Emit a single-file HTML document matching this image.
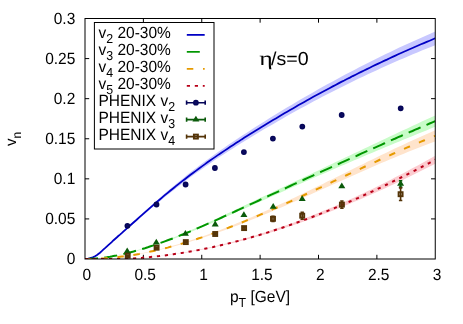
<!DOCTYPE html>
<html><head><meta charset="utf-8"><title>vn</title>
<style>html,body{margin:0;padding:0;background:#fff;width:463px;height:324px;overflow:hidden;font-family:"Liberation Sans",sans-serif}</style>
</head><body>
<svg width="463" height="324" viewBox="0 0 463 324" style="position:absolute;left:0;top:0;will-change:transform">
<rect width="463" height="324" fill="#fff"/>
<defs><clipPath id="c"><rect x="85.0" y="18.5" width="350.25" height="240.5"/></clipPath></defs>
<path d="M143.38,259.0v-4.2M143.38,18.5v4.2M201.75,259.0v-4.2M201.75,18.5v4.2M260.12,259.0v-4.2M260.12,18.5v4.2M318.50,259.0v-4.2M318.50,18.5v4.2M376.88,259.0v-4.2M376.88,18.5v4.2M85.0,218.92h4.2M435.25,218.92h-4.2M85.0,178.83h4.2M435.25,178.83h-4.2M85.0,138.75h4.2M435.25,138.75h-4.2M85.0,98.67h4.2M435.25,98.67h-4.2M85.0,58.58h4.2M435.25,58.58h-4.2" stroke="#000" stroke-width="1" fill="none"/>
<g clip-path="url(#c)">
<path d="M85.0,259.0 L86.7,258.8 L88.3,258.6 L90.0,258.2 L91.7,257.7 L93.3,257.0 L95.0,256.2 L96.7,255.1 L98.3,253.9 L100.0,252.5 L101.7,251.0 L103.3,249.5 L105.0,247.9 L106.7,246.3 L108.3,244.7 L110.0,243.1 L111.7,241.6 L113.3,240.0 L115.0,238.5 L116.7,236.9 L118.3,235.4 L120.0,233.8 L121.7,232.3 L123.3,230.8 L125.0,229.3 L129.5,225.1 L134.0,221.0 L138.5,216.9 L143.0,212.8 L147.5,208.7 L152.0,204.7 L156.5,200.7 L161.0,196.7 L165.5,192.8 L170.0,189.0 L174.5,185.2 L179.0,181.5 L183.5,177.9 L187.9,174.3 L192.4,170.8 L196.9,167.4 L201.4,164.0 L205.9,160.7 L210.4,157.4 L214.9,154.2 L219.4,151.1 L223.9,147.9 L228.4,144.8 L232.9,141.8 L237.4,138.8 L241.9,135.8 L246.4,132.9 L250.9,130.0 L255.4,127.1 L259.9,124.2 L264.4,121.4 L268.9,118.6 L273.4,115.8 L277.9,113.0 L282.4,110.3 L286.9,107.6 L291.4,104.9 L295.9,102.3 L300.4,99.6 L304.9,97.0 L309.4,94.4 L313.8,91.9 L318.3,89.3 L322.8,86.8 L327.3,84.3 L331.8,81.9 L336.3,79.4 L340.8,77.0 L345.3,74.6 L349.8,72.2 L354.3,69.9 L358.8,67.5 L363.3,65.2 L367.8,62.9 L372.3,60.7 L376.8,58.5 L381.3,56.2 L385.8,54.1 L390.3,51.9 L394.8,49.7 L399.3,47.6 L403.8,45.5 L408.3,43.5 L412.8,41.4 L417.3,39.4 L421.8,37.4 L426.3,35.4 L430.8,33.4 L435.2,31.5 L435.2,45.2 L430.8,47.0 L426.3,48.8 L421.8,50.6 L417.3,52.5 L412.8,54.3 L408.3,56.2 L403.8,58.2 L399.3,60.1 L394.8,62.1 L390.3,64.1 L385.8,66.1 L381.3,68.1 L376.8,70.2 L372.3,72.2 L367.8,74.3 L363.3,76.5 L358.8,78.6 L354.3,80.8 L349.8,83.0 L345.3,85.2 L340.8,87.4 L336.3,89.7 L331.8,91.9 L327.3,94.3 L322.8,96.6 L318.3,98.9 L313.8,101.3 L309.4,103.7 L304.9,106.2 L300.4,108.6 L295.9,111.1 L291.4,113.6 L286.9,116.1 L282.4,118.7 L277.9,121.3 L273.4,123.9 L268.9,126.5 L264.4,129.1 L259.9,131.8 L255.4,134.5 L250.9,137.2 L246.4,140.0 L241.9,142.8 L237.4,145.6 L232.9,148.4 L228.4,151.3 L223.9,154.2 L219.4,157.1 L214.9,160.1 L210.4,163.2 L205.9,166.3 L201.4,169.4 L196.9,172.6 L192.4,175.8 L187.9,179.1 L183.5,182.5 L179.0,185.9 L174.5,189.4 L170.0,192.9 L165.5,196.5 L161.0,200.2 L156.5,203.9 L152.0,207.7 L147.5,211.5 L143.0,215.4 L138.5,219.3 L134.0,223.2 L129.5,227.0 L125.0,230.9 L123.3,232.4 L121.7,233.8 L120.0,235.3 L118.3,236.7 L116.7,238.2 L115.0,239.6 L113.3,241.1 L111.7,242.5 L110.0,244.0 L108.3,245.5 L106.7,247.0 L105.0,248.5 L103.3,250.0 L101.7,251.5 L100.0,252.9 L98.3,254.2 L96.7,255.3 L95.0,256.3 L93.3,257.1 L91.7,257.8 L90.0,258.2 L88.3,258.6 L86.7,258.8 L85.0,259.0Z" fill="#c8c8ff"/>
<path d="M85.0,259.0 L86.7,259.0 L88.3,258.9 L90.0,258.8 L91.7,258.7 L93.3,258.6 L95.0,258.5 L96.7,258.3 L98.3,258.2 L100.0,258.0 L101.7,257.8 L103.3,257.6 L105.0,257.4 L106.7,257.1 L108.3,256.9 L110.0,256.6 L111.7,256.3 L113.3,256.0 L115.0,255.7 L116.7,255.3 L118.3,255.0 L120.0,254.6 L121.7,254.3 L123.3,253.9 L125.0,253.5 L129.5,252.4 L134.0,251.1 L138.5,249.8 L143.0,248.5 L147.5,247.0 L152.0,245.5 L156.5,243.9 L161.0,242.3 L165.5,240.6 L170.0,238.9 L174.5,237.1 L179.0,235.3 L183.5,233.4 L187.9,231.5 L192.4,229.6 L196.9,227.6 L201.4,225.6 L205.9,223.6 L210.4,221.5 L214.9,219.4 L219.4,217.3 L223.9,215.2 L228.4,213.1 L232.9,211.0 L237.4,208.8 L241.9,206.7 L246.4,204.5 L250.9,202.4 L255.4,200.3 L259.9,198.1 L264.4,196.0 L268.9,193.9 L273.4,191.7 L277.9,189.6 L282.4,187.5 L286.9,185.3 L291.4,183.2 L295.9,181.1 L300.4,178.9 L304.9,176.8 L309.4,174.7 L313.8,172.6 L318.3,170.4 L322.8,168.3 L327.3,166.1 L331.8,164.0 L336.3,161.8 L340.8,159.7 L345.3,157.6 L349.8,155.4 L354.3,153.3 L358.8,151.2 L363.3,149.0 L367.8,146.9 L372.3,144.8 L376.8,142.7 L381.3,140.6 L385.8,138.4 L390.3,136.3 L394.8,134.2 L399.3,132.1 L403.8,130.0 L408.3,127.9 L412.8,125.8 L417.3,123.7 L421.8,121.6 L426.3,119.6 L430.8,117.5 L435.2,115.4 L435.2,126.7 L430.8,128.5 L426.3,130.4 L421.8,132.2 L417.3,134.0 L412.8,135.9 L408.3,137.7 L403.8,139.6 L399.3,141.4 L394.8,143.3 L390.3,145.2 L385.8,147.0 L381.3,148.9 L376.8,150.8 L372.3,152.7 L367.8,154.6 L363.3,156.5 L358.8,158.4 L354.3,160.3 L349.8,162.3 L345.3,164.2 L340.8,166.1 L336.3,168.0 L331.8,170.0 L327.3,171.9 L322.8,173.9 L318.3,175.8 L313.8,177.8 L309.4,179.8 L304.9,181.8 L300.4,183.7 L295.9,185.7 L291.4,187.7 L286.9,189.7 L282.4,191.7 L277.9,193.7 L273.4,195.7 L268.9,197.7 L264.4,199.8 L259.9,201.8 L255.4,203.8 L250.9,205.8 L246.4,207.8 L241.9,209.8 L237.4,211.8 L232.9,213.8 L228.4,215.8 L223.9,217.8 L219.4,219.8 L214.9,221.8 L210.4,223.7 L205.9,225.7 L201.4,227.6 L196.9,229.4 L192.4,231.3 L187.9,233.1 L183.5,234.9 L179.0,236.7 L174.5,238.4 L170.0,240.1 L165.5,241.7 L161.0,243.3 L156.5,244.8 L152.0,246.3 L147.5,247.7 L143.0,249.1 L138.5,250.4 L134.0,251.6 L129.5,252.7 L125.0,253.8 L123.3,254.2 L121.7,254.5 L120.0,254.9 L118.3,255.2 L116.7,255.6 L115.0,255.9 L113.3,256.2 L111.7,256.5 L110.0,256.7 L108.3,257.0 L106.7,257.2 L105.0,257.5 L103.3,257.7 L101.7,257.9 L100.0,258.1 L98.3,258.2 L96.7,258.4 L95.0,258.5 L93.3,258.6 L91.7,258.8 L90.0,258.8 L88.3,258.9 L86.7,259.0 L85.0,259.0Z" fill="#c8fcc8"/>
<path d="M85.0,259.0 L86.7,259.0 L88.3,259.0 L90.0,259.0 L91.7,258.9 L93.3,258.9 L95.0,258.8 L96.7,258.7 L98.3,258.7 L100.0,258.6 L101.7,258.5 L103.3,258.4 L105.0,258.2 L106.7,258.1 L108.3,258.0 L110.0,257.8 L111.7,257.7 L113.3,257.5 L115.0,257.3 L116.7,257.1 L118.3,256.9 L120.0,256.7 L121.7,256.5 L123.3,256.3 L125.0,256.1 L129.5,255.4 L134.0,254.6 L138.5,253.8 L143.0,253.0 L147.5,252.1 L152.0,251.1 L156.5,250.0 L161.0,248.9 L165.5,247.8 L170.0,246.6 L174.5,245.3 L179.0,244.0 L183.5,242.7 L187.9,241.3 L192.4,239.8 L196.9,238.3 L201.4,236.8 L205.9,235.2 L210.4,233.6 L214.9,231.9 L219.4,230.2 L223.9,228.5 L228.4,226.7 L232.9,224.9 L237.4,223.1 L241.9,221.2 L246.4,219.3 L250.9,217.4 L255.4,215.4 L259.9,213.5 L264.4,211.5 L268.9,209.4 L273.4,207.4 L277.9,205.3 L282.4,203.3 L286.9,201.2 L291.4,199.0 L295.9,196.9 L300.4,194.8 L304.9,192.6 L309.4,190.5 L313.8,188.3 L318.3,186.1 L322.8,183.9 L327.3,181.6 L331.8,179.4 L336.3,177.2 L340.8,175.0 L345.3,172.7 L349.8,170.5 L354.3,168.3 L358.8,166.1 L363.3,163.9 L367.8,161.6 L372.3,159.4 L376.8,157.3 L381.3,155.1 L385.8,152.9 L390.3,150.8 L394.8,148.6 L399.3,146.5 L403.8,144.4 L408.3,142.3 L412.8,140.3 L417.3,138.2 L421.8,136.2 L426.3,134.2 L430.8,132.2 L435.2,130.3 L435.2,141.4 L430.8,143.1 L426.3,144.8 L421.8,146.5 L417.3,148.3 L412.8,150.0 L408.3,151.8 L403.8,153.7 L399.3,155.5 L394.8,157.4 L390.3,159.3 L385.8,161.2 L381.3,163.1 L376.8,165.0 L372.3,167.0 L367.8,168.9 L363.3,170.9 L358.8,172.9 L354.3,174.9 L349.8,176.9 L345.3,178.9 L340.8,180.9 L336.3,182.9 L331.8,184.9 L327.3,186.9 L322.8,188.9 L318.3,190.9 L313.8,192.9 L309.4,195.0 L304.9,197.0 L300.4,199.0 L295.9,201.0 L291.4,203.0 L286.9,204.9 L282.4,206.9 L277.9,208.8 L273.4,210.8 L268.9,212.7 L264.4,214.6 L259.9,216.4 L255.4,218.3 L250.9,220.1 L246.4,221.9 L241.9,223.7 L237.4,225.4 L232.9,227.1 L228.4,228.8 L223.9,230.5 L219.4,232.1 L214.9,233.7 L210.4,235.2 L205.9,236.7 L201.4,238.2 L196.9,239.7 L192.4,241.1 L187.9,242.4 L183.5,243.7 L179.0,245.0 L174.5,246.2 L170.0,247.4 L165.5,248.5 L161.0,249.6 L156.5,250.6 L152.0,251.6 L147.5,252.5 L143.0,253.4 L138.5,254.2 L134.0,254.9 L129.5,255.6 L125.0,256.3 L123.3,256.5 L121.7,256.7 L120.0,256.9 L118.3,257.1 L116.7,257.3 L115.0,257.4 L113.3,257.6 L111.7,257.8 L110.0,257.9 L108.3,258.0 L106.7,258.2 L105.0,258.3 L103.3,258.4 L101.7,258.5 L100.0,258.6 L98.3,258.7 L96.7,258.8 L95.0,258.8 L93.3,258.9 L91.7,258.9 L90.0,259.0 L88.3,259.0 L86.7,259.0 L85.0,259.0Z" fill="#ffe4cc"/>
<path d="M85.0,259.0 L86.7,259.0 L88.3,259.0 L90.0,259.0 L91.7,259.0 L93.3,259.0 L95.0,259.0 L96.7,259.0 L98.3,259.0 L100.0,259.0 L101.7,259.0 L103.3,259.0 L105.0,259.0 L106.7,259.0 L108.3,259.0 L110.0,259.0 L111.7,259.0 L113.3,259.0 L115.0,259.0 L116.7,259.0 L118.3,259.0 L120.0,259.0 L121.7,259.0 L123.3,258.9 L125.0,258.9 L129.5,258.6 L134.0,258.3 L138.5,258.0 L143.0,257.7 L147.5,257.2 L152.0,256.8 L156.5,256.3 L161.0,255.8 L165.5,255.2 L170.0,254.6 L174.5,253.9 L179.0,253.2 L183.5,252.5 L187.9,251.7 L192.4,250.8 L196.9,250.0 L201.4,249.1 L205.9,248.2 L210.4,247.2 L214.9,246.2 L219.4,245.1 L223.9,244.0 L228.4,242.9 L232.9,241.7 L237.4,240.5 L241.9,239.3 L246.4,238.0 L250.9,236.7 L255.4,235.4 L259.9,234.0 L264.4,232.6 L268.9,231.1 L273.4,229.6 L277.9,228.1 L282.4,226.6 L286.9,225.0 L291.4,223.4 L295.9,221.7 L300.4,220.0 L304.9,218.3 L309.4,216.6 L313.8,214.8 L318.3,213.0 L322.8,211.1 L327.3,209.3 L331.8,207.4 L336.3,205.4 L340.8,203.4 L345.3,201.5 L349.8,199.4 L354.3,197.4 L358.8,195.3 L363.3,193.2 L367.8,191.0 L372.3,188.9 L376.8,186.7 L381.3,184.4 L385.8,182.2 L390.3,179.9 L394.8,177.6 L399.3,175.3 L403.8,172.9 L408.3,170.5 L412.8,168.1 L417.3,165.7 L421.8,163.3 L426.3,160.8 L430.8,158.3 L435.2,155.7 L435.2,163.7 L430.8,166.0 L426.3,168.3 L421.8,170.5 L417.3,172.8 L412.8,175.0 L408.3,177.2 L403.8,179.4 L399.3,181.5 L394.8,183.7 L390.3,185.8 L385.8,187.9 L381.3,189.9 L376.8,192.0 L372.3,194.0 L367.8,196.0 L363.3,198.0 L358.8,199.9 L354.3,201.8 L349.8,203.7 L345.3,205.6 L340.8,207.4 L336.3,209.2 L331.8,211.0 L327.3,212.8 L322.8,214.5 L318.3,216.2 L313.8,217.9 L309.4,219.5 L304.9,221.1 L300.4,222.7 L295.9,224.3 L291.4,225.8 L286.9,227.3 L282.4,228.8 L277.9,230.3 L273.4,231.7 L268.9,233.0 L264.4,234.4 L259.9,235.7 L255.4,237.0 L250.9,238.2 L246.4,239.5 L241.9,240.7 L237.4,241.8 L232.9,242.9 L228.4,244.0 L223.9,245.1 L219.4,246.1 L214.9,247.1 L210.4,248.0 L205.9,248.9 L201.4,249.8 L196.9,250.6 L192.4,251.4 L187.9,252.2 L183.5,252.9 L179.0,253.6 L174.5,254.3 L170.0,254.9 L165.5,255.4 L161.0,256.0 L156.5,256.5 L152.0,256.9 L147.5,257.4 L143.0,257.7 L138.5,258.1 L134.0,258.4 L129.5,258.7 L125.0,258.9 L123.3,258.9 L121.7,259.0 L120.0,259.0 L118.3,259.0 L116.7,259.0 L115.0,259.0 L113.3,259.0 L111.7,259.0 L110.0,259.0 L108.3,259.0 L106.7,259.0 L105.0,259.0 L103.3,259.0 L101.7,259.0 L100.0,259.0 L98.3,259.0 L96.7,259.0 L95.0,259.0 L93.3,259.0 L91.7,259.0 L90.0,259.0 L88.3,259.0 L86.7,259.0 L85.0,259.0Z" fill="#fcccd0"/>
<path d="M85.0,259.0 L86.7,258.8 L88.3,258.6 L90.0,258.2 L91.7,257.7 L93.3,257.1 L95.0,256.3 L96.7,255.2 L98.3,254.0 L100.0,252.7 L101.7,251.2 L103.3,249.7 L105.0,248.2 L106.7,246.6 L108.3,245.1 L110.0,243.6 L111.7,242.1 L113.3,240.5 L115.0,239.0 L116.7,237.5 L118.3,236.0 L120.0,234.6 L121.7,233.1 L123.3,231.6 L125.0,230.1 L127.8,227.6 L130.7,225.0 L133.5,222.5 L136.4,220.0 L139.2,217.4 L142.1,214.9 L144.9,212.4 L147.8,209.9 L150.6,207.4 L153.5,204.9 L156.3,202.4 L159.2,200.0 L162.0,197.6 L164.8,195.2 L167.7,192.8 L170.5,190.5 L173.4,188.2 L176.2,185.9 L179.1,183.6 L181.9,181.4 L184.8,179.2 L187.6,177.0 L190.5,174.8 L193.3,172.7 L196.2,170.6 L199.0,168.5 L201.9,166.4 L204.7,164.4 L207.5,162.3 L210.4,160.3 L213.2,158.4 L216.1,156.4 L218.9,154.4 L221.8,152.5 L224.6,150.6 L227.5,148.7 L230.3,146.8 L233.2,144.9 L236.0,143.1 L238.9,141.3 L241.7,139.4 L244.5,137.6 L247.4,135.8 L250.2,134.0 L253.1,132.2 L255.9,130.5 L258.8,128.7 L261.6,127.0 L264.5,125.2 L267.3,123.5 L270.2,121.8 L273.0,120.1 L275.9,118.4 L278.7,116.7 L281.5,115.0 L284.4,113.3 L287.2,111.7 L290.1,110.0 L292.9,108.4 L295.8,106.7 L298.6,105.1 L301.5,103.5 L304.3,101.9 L307.2,100.3 L310.0,98.7 L312.9,97.1 L315.7,95.6 L318.6,94.0 L321.4,92.5 L324.2,91.0 L327.1,89.4 L329.9,87.9 L332.8,86.4 L335.6,84.9 L338.5,83.4 L341.3,81.9 L344.2,80.5 L347.0,79.0 L349.9,77.6 L352.7,76.1 L355.6,74.7 L358.4,73.3 L361.2,71.9 L364.1,70.5 L366.9,69.1 L369.8,67.7 L372.6,66.3 L375.5,64.9 L378.3,63.6 L381.2,62.2 L384.0,60.9 L386.9,59.6 L389.7,58.2 L392.6,56.9 L395.4,55.6 L398.2,54.3 L401.1,53.0 L403.9,51.8 L406.8,50.5 L409.6,49.2 L412.5,48.0 L415.3,46.8 L418.2,45.5 L421.0,44.3 L423.9,43.1 L426.7,41.9 L429.6,40.7 L432.4,39.5 L435.2,38.3" fill="none" stroke="#0000c4" stroke-width="1.75"/>
<path d="M85.0,259.0 L86.7,259.0 L88.3,258.9 L90.0,258.8 L91.7,258.7 L93.3,258.6 L95.0,258.5 L96.7,258.4 L98.3,258.2 L100.0,258.0 L101.7,257.8 L103.3,257.6 L105.0,257.4 L106.7,257.2 L108.3,256.9 L110.0,256.7 L111.7,256.4 L113.3,256.1 L115.0,255.8 L116.7,255.5 L118.3,255.1 L120.0,254.8 L121.7,254.4 L123.3,254.0 L125.0,253.6 L127.8,253.0 L130.7,252.2 L133.5,251.5 L136.4,250.7 L139.2,249.9 L142.1,249.0 L144.9,248.2 L147.8,247.3 L150.6,246.3 L153.5,245.4 L156.3,244.4 L159.2,243.4 L162.0,242.4 L164.8,241.4 L167.7,240.3 L170.5,239.3 L173.4,238.2 L176.2,237.1 L179.1,235.9 L181.9,234.8 L184.8,233.6 L187.6,232.5 L190.5,231.3 L193.3,230.1 L196.2,228.9 L199.0,227.6 L201.9,226.4 L204.7,225.1 L207.5,223.9 L210.4,222.6 L213.2,221.4 L216.1,220.1 L218.9,218.8 L221.8,217.5 L224.6,216.2 L227.5,214.9 L230.3,213.6 L233.2,212.3 L236.0,211.0 L238.9,209.7 L241.7,208.3 L244.5,207.0 L247.4,205.7 L250.2,204.4 L253.1,203.1 L255.9,201.8 L258.8,200.5 L261.6,199.1 L264.5,197.8 L267.3,196.5 L270.2,195.2 L273.0,193.9 L275.9,192.6 L278.7,191.3 L281.5,190.0 L284.4,188.7 L287.2,187.4 L290.1,186.0 L292.9,184.7 L295.8,183.4 L298.6,182.1 L301.5,180.8 L304.3,179.5 L307.2,178.2 L310.0,176.9 L312.9,175.6 L315.7,174.3 L318.6,173.0 L321.4,171.7 L324.2,170.4 L327.1,169.1 L329.9,167.8 L332.8,166.6 L335.6,165.3 L338.5,164.0 L341.3,162.7 L344.2,161.4 L347.0,160.1 L349.9,158.8 L352.7,157.5 L355.6,156.3 L358.4,155.0 L361.2,153.7 L364.1,152.4 L366.9,151.1 L369.8,149.9 L372.6,148.6 L375.5,147.3 L378.3,146.1 L381.2,144.8 L384.0,143.5 L386.9,142.3 L389.7,141.0 L392.6,139.7 L395.4,138.5 L398.2,137.2 L401.1,136.0 L403.9,134.7 L406.8,133.5 L409.6,132.2 L412.5,131.0 L415.3,129.7 L418.2,128.5 L421.0,127.2 L423.9,126.0 L426.7,124.8 L429.6,123.5 L432.4,122.3 L435.2,121.1" fill="none" stroke="#009600" stroke-width="2.0" stroke-dasharray="13 6.4"/>
<path d="M85.0,259.0 L86.7,259.0 L88.3,259.0 L90.0,259.0 L91.7,258.9 L93.3,258.9 L95.0,258.8 L96.7,258.8 L98.3,258.7 L100.0,258.6 L101.7,258.5 L103.3,258.4 L105.0,258.3 L106.7,258.1 L108.3,258.0 L110.0,257.9 L111.7,257.7 L113.3,257.6 L115.0,257.4 L116.7,257.2 L118.3,257.0 L120.0,256.8 L121.7,256.6 L123.3,256.4 L125.0,256.2 L127.8,255.8 L130.7,255.3 L133.5,254.9 L136.4,254.4 L139.2,253.9 L142.1,253.3 L144.9,252.8 L147.8,252.2 L150.6,251.6 L153.5,251.0 L156.3,250.4 L159.2,249.7 L162.0,249.0 L164.8,248.3 L167.7,247.6 L170.5,246.8 L173.4,246.1 L176.2,245.3 L179.1,244.5 L181.9,243.6 L184.8,242.8 L187.6,241.9 L190.5,241.1 L193.3,240.2 L196.2,239.2 L199.0,238.3 L201.9,237.4 L204.7,236.4 L207.5,235.4 L210.4,234.4 L213.2,233.4 L216.1,232.4 L218.9,231.3 L221.8,230.3 L224.6,229.2 L227.5,228.1 L230.3,227.0 L233.2,225.9 L236.0,224.8 L238.9,223.7 L241.7,222.5 L244.5,221.4 L247.4,220.2 L250.2,219.0 L253.1,217.8 L255.9,216.6 L258.8,215.4 L261.6,214.2 L264.5,213.0 L267.3,211.7 L270.2,210.5 L273.0,209.2 L275.9,208.0 L278.7,206.7 L281.5,205.4 L284.4,204.2 L287.2,202.9 L290.1,201.6 L292.9,200.3 L295.8,199.0 L298.6,197.7 L301.5,196.4 L304.3,195.0 L307.2,193.7 L310.0,192.4 L312.9,191.1 L315.7,189.7 L318.6,188.4 L321.4,187.1 L324.2,185.7 L327.1,184.4 L329.9,183.1 L332.8,181.7 L335.6,180.4 L338.5,179.0 L341.3,177.7 L344.2,176.4 L347.0,175.0 L349.9,173.7 L352.7,172.3 L355.6,171.0 L358.4,169.7 L361.2,168.4 L364.1,167.0 L366.9,165.7 L369.8,164.4 L372.6,163.1 L375.5,161.8 L378.3,160.5 L381.2,159.1 L384.0,157.9 L386.9,156.6 L389.7,155.3 L392.6,154.0 L395.4,152.7 L398.2,151.5 L401.1,150.2 L403.9,149.0 L406.8,147.7 L409.6,146.5 L412.5,145.3 L415.3,144.1 L418.2,142.9 L421.0,141.7 L423.9,140.5 L426.7,139.3 L429.6,138.1 L432.4,137.0 L435.2,135.8" fill="none" stroke="#e69a00" stroke-width="2.0" stroke-dasharray="6.5 9.7"/>
<path d="M85.0,259.0 L86.7,259.0 L88.3,259.0 L90.0,259.0 L91.7,259.0 L93.3,259.0 L95.0,259.0 L96.7,259.0 L98.3,259.0 L100.0,259.0 L101.7,259.0 L103.3,259.0 L105.0,259.0 L106.7,259.0 L108.3,259.0 L110.0,259.0 L111.7,259.0 L113.3,259.0 L115.0,259.0 L116.7,259.0 L118.3,259.0 L120.0,259.0 L121.7,259.0 L123.3,258.9 L125.0,258.9 L127.8,258.7 L130.7,258.6 L133.5,258.4 L136.4,258.2 L139.2,258.0 L142.1,257.8 L144.9,257.5 L147.8,257.3 L150.6,257.0 L153.5,256.7 L156.3,256.4 L159.2,256.1 L162.0,255.7 L164.8,255.4 L167.7,255.0 L170.5,254.6 L173.4,254.2 L176.2,253.8 L179.1,253.4 L181.9,252.9 L184.8,252.5 L187.6,252.0 L190.5,251.5 L193.3,251.0 L196.2,250.4 L199.0,249.9 L201.9,249.4 L204.7,248.8 L207.5,248.2 L210.4,247.6 L213.2,247.0 L216.1,246.3 L218.9,245.7 L221.8,245.0 L224.6,244.4 L227.5,243.7 L230.3,243.0 L233.2,242.3 L236.0,241.5 L238.9,240.8 L241.7,240.0 L244.5,239.2 L247.4,238.5 L250.2,237.7 L253.1,236.8 L255.9,236.0 L258.8,235.2 L261.6,234.3 L264.5,233.5 L267.3,232.6 L270.2,231.7 L273.0,230.8 L275.9,229.8 L278.7,228.9 L281.5,228.0 L284.4,227.0 L287.2,226.0 L290.1,225.0 L292.9,224.0 L295.8,223.0 L298.6,222.0 L301.5,221.0 L304.3,219.9 L307.2,218.9 L310.0,217.8 L312.9,216.7 L315.7,215.6 L318.6,214.5 L321.4,213.4 L324.2,212.3 L327.1,211.1 L329.9,210.0 L332.8,208.8 L335.6,207.6 L338.5,206.4 L341.3,205.2 L344.2,204.0 L347.0,202.8 L349.9,201.5 L352.7,200.3 L355.6,199.0 L358.4,197.8 L361.2,196.5 L364.1,195.2 L366.9,193.9 L369.8,192.6 L372.6,191.3 L375.5,189.9 L378.3,188.6 L381.2,187.3 L384.0,185.9 L386.9,184.5 L389.7,183.1 L392.6,181.7 L395.4,180.3 L398.2,178.9 L401.1,177.5 L403.9,176.1 L406.8,174.6 L409.6,173.2 L412.5,171.7 L415.3,170.3 L418.2,168.8 L421.0,167.3 L423.9,165.8 L426.7,164.3 L429.6,162.8 L432.4,161.2 L435.2,159.7" fill="none" stroke="#b80018" stroke-width="2.0" stroke-dasharray="3.2 4.8"/>
</g>
<circle cx="127.40" cy="225.80" r="2.15" fill="#0c0c60" stroke="#050558" stroke-width="1.5"/>
<circle cx="156.50" cy="204.50" r="2.15" fill="#0c0c60" stroke="#050558" stroke-width="1.5"/>
<circle cx="185.60" cy="184.50" r="2.15" fill="#0c0c60" stroke="#050558" stroke-width="1.5"/>
<circle cx="214.90" cy="168.00" r="2.15" fill="#0c0c60" stroke="#050558" stroke-width="1.5"/>
<circle cx="243.90" cy="152.10" r="2.15" fill="#0c0c60" stroke="#050558" stroke-width="1.5"/>
<circle cx="272.90" cy="138.60" r="2.15" fill="#0c0c60" stroke="#050558" stroke-width="1.5"/>
<circle cx="302.30" cy="126.60" r="2.15" fill="#0c0c60" stroke="#050558" stroke-width="1.5"/>
<circle cx="341.70" cy="115.00" r="2.15" fill="#0c0c60" stroke="#050558" stroke-width="1.5"/>
<path d="M400.70,107.50V109.10M399.00,107.50H402.40M399.00,109.10H402.40" stroke="#050558" stroke-width="1.6" fill="none"/>
<circle cx="400.70" cy="108.30" r="2.15" fill="#0c0c60" stroke="#050558" stroke-width="1.5"/>
<path d="M127.20,247.50L130.70,253.30H123.70Z" fill="#0a5a0a"/>
<path d="M156.30,238.80L159.80,244.60H152.80Z" fill="#0a5a0a"/>
<path d="M185.40,230.00L188.90,235.80H181.90Z" fill="#0a5a0a"/>
<path d="M215.20,220.60L218.70,226.40H211.70Z" fill="#0a5a0a"/>
<path d="M243.90,211.30L247.40,217.10H240.40Z" fill="#0a5a0a"/>
<path d="M273.20,202.90L276.70,208.70H269.70Z" fill="#0a5a0a"/>
<path d="M302.20,195.30L305.70,201.10H298.70Z" fill="#0a5a0a"/>
<path d="M341.80,182.50L345.30,188.30H338.30Z" fill="#0a5a0a"/>
<path d="M400.60,180.70V187.10M398.90,180.70H402.30M398.90,187.10H402.30" stroke="#0a5a0a" stroke-width="1.6" fill="none"/>
<path d="M400.60,180.00L404.10,185.80H397.10Z" fill="#0a5a0a"/>
<path d="M127.70,255.20V256.20M126.00,255.20H129.40M126.00,256.20H129.40" stroke="#543408" stroke-width="1.6" fill="none"/>
<rect x="125.70" y="253.70" width="4.0" height="4.0" fill="#543408" fill-opacity="0.25" stroke="#543408" stroke-width="1.9"/>
<path d="M156.60,247.20V248.20M154.90,247.20H158.30M154.90,248.20H158.30" stroke="#543408" stroke-width="1.6" fill="none"/>
<rect x="154.60" y="245.70" width="4.0" height="4.0" fill="#543408" fill-opacity="0.25" stroke="#543408" stroke-width="1.9"/>
<path d="M185.80,241.60V242.60M184.10,241.60H187.50M184.10,242.60H187.50" stroke="#543408" stroke-width="1.6" fill="none"/>
<rect x="183.80" y="240.10" width="4.0" height="4.0" fill="#543408" fill-opacity="0.25" stroke="#543408" stroke-width="1.9"/>
<path d="M215.20,233.50V234.50M213.50,233.50H216.90M213.50,234.50H216.90" stroke="#543408" stroke-width="1.6" fill="none"/>
<rect x="213.20" y="232.00" width="4.0" height="4.0" fill="#543408" fill-opacity="0.25" stroke="#543408" stroke-width="1.9"/>
<path d="M244.10,227.10V229.10M242.40,227.10H245.80M242.40,229.10H245.80" stroke="#543408" stroke-width="1.6" fill="none"/>
<rect x="242.10" y="226.10" width="4.0" height="4.0" fill="#543408" fill-opacity="0.25" stroke="#543408" stroke-width="1.9"/>
<path d="M273.00,216.20V221.40M271.30,216.20H274.70M271.30,221.40H274.70" stroke="#543408" stroke-width="1.6" fill="none"/>
<rect x="271.00" y="216.80" width="4.0" height="4.0" fill="#543408" fill-opacity="0.25" stroke="#543408" stroke-width="1.9"/>
<path d="M302.20,212.20V219.20M300.50,212.20H303.90M300.50,219.20H303.90" stroke="#543408" stroke-width="1.6" fill="none"/>
<rect x="300.20" y="213.70" width="4.0" height="4.0" fill="#543408" fill-opacity="0.25" stroke="#543408" stroke-width="1.9"/>
<path d="M341.90,201.00V208.20M340.20,201.00H343.60M340.20,208.20H343.60" stroke="#543408" stroke-width="1.6" fill="none"/>
<rect x="339.90" y="202.60" width="4.0" height="4.0" fill="#543408" fill-opacity="0.25" stroke="#543408" stroke-width="1.9"/>
<path d="M400.60,187.90V200.50M398.90,187.90H402.30M398.90,200.50H402.30" stroke="#543408" stroke-width="1.6" fill="none"/>
<rect x="398.60" y="192.20" width="4.0" height="4.0" fill="#543408" fill-opacity="0.25" stroke="#543408" stroke-width="1.9"/>
<rect x="85.0" y="18.5" width="350.25" height="240.5" fill="none" stroke="#000" stroke-width="1"/>
<rect x="94.4" y="22.5" width="119.6" height="126.5" fill="#fff" stroke="#000" stroke-width="1"/>
<g font-family="Liberation Sans, sans-serif" fill="#000" style="text-rendering:geometricPrecision">
<text transform="translate(98.50,38.05) scale(1,1.045)" font-size="15.5" text-anchor="start">v<tspan dy="4.5" font-size="12.4">2</tspan><tspan dy="-4.5"> 20-30%</tspan></text>
<text transform="translate(98.50,55.00) scale(1,1.045)" font-size="15.5" text-anchor="start">v<tspan dy="4.5" font-size="12.4">3</tspan><tspan dy="-4.5"> 20-30%</tspan></text>
<text transform="translate(98.50,71.95) scale(1,1.045)" font-size="15.5" text-anchor="start">v<tspan dy="4.5" font-size="12.4">4</tspan><tspan dy="-4.5"> 20-30%</tspan></text>
<text transform="translate(98.50,88.90) scale(1,1.045)" font-size="15.5" text-anchor="start">v<tspan dy="4.5" font-size="12.4">5</tspan><tspan dy="-4.5"> 20-30%</tspan></text>
<text transform="translate(98.50,106.20) scale(1,1.045)" font-size="15.5" text-anchor="start">PHENIX v<tspan dy="4.5" font-size="12.4">2</tspan></text>
<text transform="translate(98.50,123.15) scale(1,1.045)" font-size="15.5" text-anchor="start">PHENIX v<tspan dy="4.5" font-size="12.4">3</tspan></text>
<text transform="translate(98.50,140.10) scale(1,1.045)" font-size="15.5" text-anchor="start">PHENIX v<tspan dy="4.5" font-size="12.4">4</tspan></text>
<text transform="translate(75.30,264.10) scale(1,1.045)" font-size="15.5" text-anchor="end">0</text>
<text transform="translate(75.30,224.02) scale(1,1.045)" font-size="15.5" text-anchor="end">0.05</text>
<text transform="translate(75.30,183.93) scale(1,1.045)" font-size="15.5" text-anchor="end">0.1</text>
<text transform="translate(75.30,143.85) scale(1,1.045)" font-size="15.5" text-anchor="end">0.15</text>
<text transform="translate(75.30,103.77) scale(1,1.045)" font-size="15.5" text-anchor="end">0.2</text>
<text transform="translate(75.30,63.68) scale(1,1.045)" font-size="15.5" text-anchor="end">0.25</text>
<text transform="translate(75.30,23.60) scale(1,1.045)" font-size="15.5" text-anchor="end">0.3</text>
<text transform="translate(86.80,279.80) scale(1,1.045)" font-size="15.5" text-anchor="middle">0</text>
<text transform="translate(145.18,279.80) scale(1,1.045)" font-size="15.5" text-anchor="middle">0.5</text>
<text transform="translate(203.55,279.80) scale(1,1.045)" font-size="15.5" text-anchor="middle">1</text>
<text transform="translate(261.93,279.80) scale(1,1.045)" font-size="15.5" text-anchor="middle">1.5</text>
<text transform="translate(320.30,279.80) scale(1,1.045)" font-size="15.5" text-anchor="middle">2</text>
<text transform="translate(378.68,279.80) scale(1,1.045)" font-size="15.5" text-anchor="middle">2.5</text>
<text transform="translate(437.05,279.80) scale(1,1.045)" font-size="15.5" text-anchor="middle">3</text>
<text transform="translate(260.00,301.80) scale(1,1.045)" font-size="15.5" text-anchor="middle">p<tspan dy="4.5" font-size="12.4">T</tspan><tspan dy="-4.5"> [GeV]</tspan></text>
<text transform="translate(16.1,138.9) rotate(-90) scale(0.97,1)" font-size="15.5" text-anchor="middle">v<tspan dy="4.5" font-size="12.4">n</tspan></text>
<text transform="translate(259.3,64.8) scale(1.36,1.05)" font-size="19" font-family="Liberation Serif, serif">η</text>
<text transform="translate(271.1,64.8) scale(1,0.96)" font-size="19.6">/s=0</text>
</g>
<path d="M186.8,34.90H204.7" stroke="#0000c4" stroke-width="1.75"/>
<path d="M186.8,51.85H204.7" stroke="#009600" stroke-width="1.75" stroke-dasharray="13 6.4"/>
<path d="M186.8,68.80H204.7" stroke="#e69a00" stroke-width="1.75" stroke-dasharray="6.5 9.7"/>
<path d="M186.8,85.75H204.7" stroke="#b80018" stroke-width="1.75" stroke-dasharray="3.2 4.8"/>
<path d="M186.6,102.70H205.2M186.6,100.60v4.2M205.2,100.60v4.2" stroke="#050558" stroke-width="1.6" fill="none"/>
<circle cx="195.90" cy="102.70" r="2.15" fill="#0c0c60" stroke="#050558" stroke-width="1.5"/>
<path d="M186.6,119.65H205.2M186.6,117.55v4.2M205.2,117.55v4.2" stroke="#0a5a0a" stroke-width="1.6" fill="none"/>
<path d="M195.90,115.75L199.40,121.55H192.40Z" fill="#0a5a0a"/>
<path d="M186.6,136.60H205.2M186.6,134.50v4.2M205.2,134.50v4.2" stroke="#543408" stroke-width="1.6" fill="none"/>
<rect x="193.90" y="134.60" width="4.0" height="4.0" fill="#543408" fill-opacity="0.25" stroke="#543408" stroke-width="1.9"/>
</svg>
</body></html>
